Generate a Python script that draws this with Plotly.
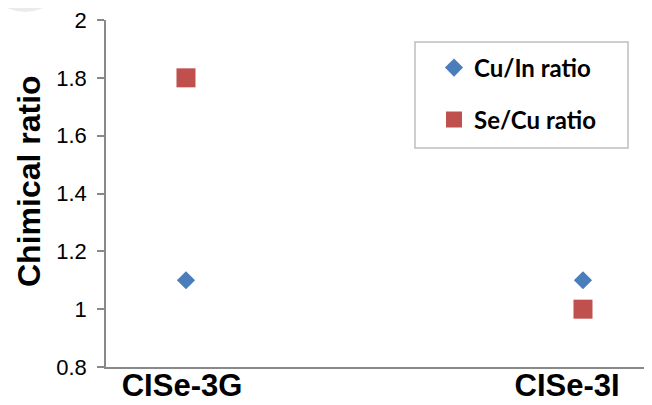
import plotly.graph_objects as go

# data
samples = ["CISe-3G", "CISe-3I"]
cu_in_ratio = [1.1, 1.1]
se_cu_ratio = [1.8, 1.0]
y_ticks = [0.8, 1.0, 1.2, 1.4, 1.6, 1.8, 2.0]

BLUE = "#4A7EBB"
RED = "#C0504D"
AXIS = "#898989"
SANS = "Liberation Sans, Arial, sans-serif"

# the page body keeps its default 8px margin, so the figure sits at (8, 8)
# in the 652x405 window; plan in window pixels and shrink the figure to fit
OFF = 8
W, H = 652 - OFF, 405 - OFF
PLOT_L, PLOT_R, PLOT_T, PLOT_B = 106, 650, 20, 367   # window pixels
L, R = PLOT_L - OFF, W - (PLOT_R - OFF)
T, B = PLOT_T - OFF, H - (PLOT_B - OFF)
pw, ph = PLOT_R - PLOT_L, PLOT_B - PLOT_T


def px(x):
    return (x - PLOT_L) / pw


def py(y):
    return (PLOT_B - y) / ph


xs = list(range(len(samples)))
fig = go.Figure()
fig.add_trace(go.Scatter(x=xs, y=cu_in_ratio, mode="markers", name="Cu/In ratio",
                         legend="legend",
                         marker=dict(symbol="diamond", size=14, color=BLUE)))
fig.add_trace(go.Scatter(x=xs, y=se_cu_ratio, mode="markers", name="Se/Cu ratio",
                         legend="legend2",
                         marker=dict(symbol="square", size=19, color=RED)))

legend_font = dict(family="Lato", size=24, color="black", weight="bold")
leg = dict(xanchor="left", yanchor="middle", bgcolor="rgba(0,0,0,0)",
           borderwidth=0, font=legend_font, itemwidth=30)

fig.update_layout(
    width=W, height=H,
    margin=dict(l=L, r=R, t=T, b=B, pad=0, autoexpand=False),
    plot_bgcolor="white", paper_bgcolor="white",
    showlegend=True,
    legend=dict(leg, x=px(434), y=py(68)),
    legend2=dict(leg, x=px(434), y=py(120)),
    xaxis=dict(range=[-0.2015, 1.1688], showgrid=False, zeroline=False,
               automargin=False,
               showline=True, linecolor=AXIS, linewidth=1.5,
               tickmode="array", tickvals=[-0.01, 0.96], ticktext=samples,
               ticks="", ticklabelstandoff=-10,
               tickfont=dict(family=SANS, size=31, color="black", weight="bold")),
    yaxis=dict(range=[0.8, 2.0], tickvals=y_ticks, showgrid=False, zeroline=False,
               automargin=False,
               showline=True, linecolor=AXIS, linewidth=1.5,
               ticks="outside", ticklen=7, tickcolor=AXIS, tickwidth=1.5,
               ticklabelstandoff=6, ticklabeloverflow="allow",
               tickfont=dict(family=SANS, size=22, color="black")),
    # the y title sits a little above the plot's middle, so it is placed by hand
    annotations=[dict(text="Chimical ratio", textangle=-90, showarrow=False,
                      xref="paper", yref="paper", x=px(29), y=py(181),
                      xanchor="center", yanchor="middle",
                      font=dict(family=SANS, size=32, color="black",
                                weight="bold"))],
    shapes=[
        dict(type="rect", xref="paper", yref="paper",
             x0=px(415), x1=px(628), y0=py(148), y1=py(42),
             line=dict(color="#BFBFBF", width=1.5), fillcolor="rgba(0,0,0,0)"),
        dict(type="circle", xref="paper", yref="paper",
             x0=px(-17), x1=px(67), y0=py(12), y1=py(-72),
             line=dict(width=0), fillcolor="#EBEBEB", layer="below"),
    ],
)

fig.write_html("out.html")
